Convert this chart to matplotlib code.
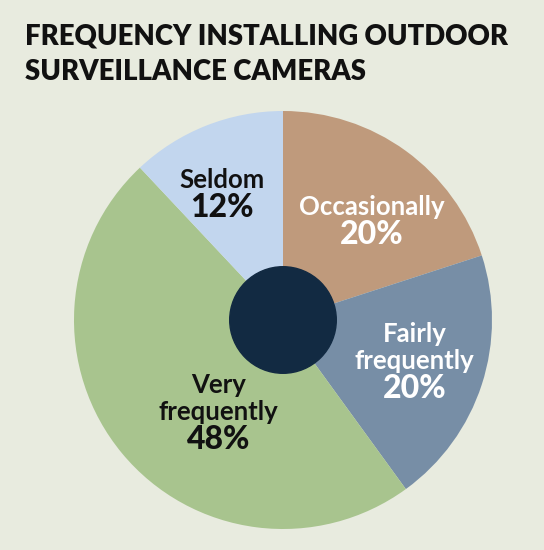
import numpy as np
import matplotlib.pyplot as plt

labels = ['Occasionally', 'Fairly\nfrequently', 'Very\nfrequently', 'Seldom']
values = [20, 20, 48, 12]
colors = ['#bf9a7c', '#778ea6', '#a8c48e', '#c2d6ee']
text_colors = ['white', 'white', '#111111', '#111111']
# percent-line baseline placement: (radius fraction, angle in degrees)
label_pos = [(0.56, 40.5), (0.733, -30.6), (0.69, 243.3), (0.573, 120.6)]

bg = '#e8ebdf'
plt.rcParams['font.family'] = ['Lato', 'DejaVu Sans']

fig = plt.figure(figsize=(5.44, 5.5), dpi=100, facecolor=bg)

fig.text(25 / 544, 1 - 45 / 550, 'FREQUENCY INSTALLING OUTDOOR',
         ha='left', va='baseline', fontsize=19.8, fontweight='heavy', color='#111111')
fig.text(25 / 544, 1 - 80 / 550, 'SURVEILLANCE CAMERAS',
         ha='left', va='baseline', fontsize=19.8, fontweight='heavy', color='#111111')

cx, cy, R = 283, 320, 209
ax = fig.add_axes([(cx - R) / 544, (550 - cy - R) / 550, 2 * R / 544, 2 * R / 550])
ax.set_facecolor(bg)
ax.pie(values, colors=colors, startangle=90, counterclock=False, radius=1,
       wedgeprops=dict(linewidth=0))
ax.add_patch(plt.Circle((0, 0), 0.255, color='#122a42', zorder=5))

for lab, v, (r, a), tc in zip(labels, values, label_pos, text_colors):
    x = r * np.cos(np.radians(a))
    y = r * np.sin(np.radians(a))
    ax.annotate(f'{v}%', (x, y), ha='center', va='baseline', color=tc,
                fontsize=23, fontweight='black')
    lines = lab.split('\n')
    for i, line in enumerate(reversed(lines)):
        ax.annotate(line, (x, y), xytext=(0, 29 + 27 * i), textcoords='offset pixels',
                    ha='center', va='baseline', color=tc, fontsize=18.5, fontweight='bold')

ax.set_xlim(-1, 1)
ax.set_ylim(-1, 1)
ax.set_aspect('auto')
ax.axis('off')

fig.savefig('out.png', dpi=100, facecolor=bg)
